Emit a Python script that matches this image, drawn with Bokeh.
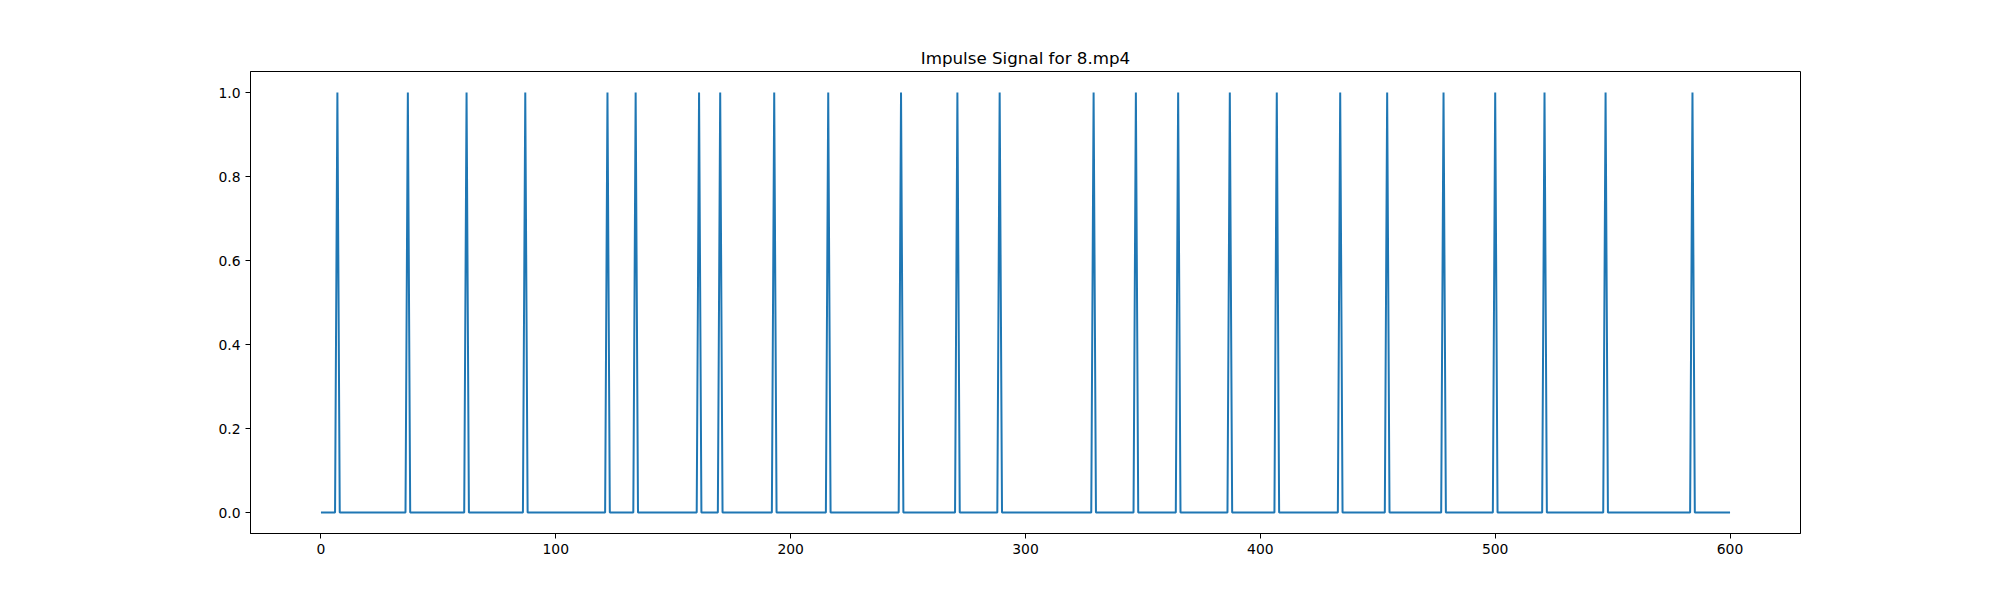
from bokeh.plotting import figure
from bokeh.models import Range1d, FixedTicker, PrintfTickFormatter, ColumnDataSource
from bokeh.embed import file_html
from bokeh.resources import INLINE

# Data: impulse positions (frame indices) over 0..600
n_samples = 601
spike_indices = [7, 37, 62, 87, 122, 134, 161, 170, 193, 216, 247, 271, 289,
                 329, 347, 365, 387, 407, 434, 454, 478, 500, 521, 547, 584]
x_ticks = [0, 100, 200, 300, 400, 500, 600]
y_ticks = [0.0, 0.2, 0.4, 0.6, 0.8, 1.0]
title_text = "Impulse Signal for 8.mp4"

xs = list(range(n_samples))
spike_set = set(spike_indices)
ys = [1.0 if i in spike_set else 0.0 for i in xs]
src = ColumnDataSource(dict(x=xs, y=ys))

p = figure(width=1984, height=584, output_backend="svg", toolbar_location=None,
           x_range=Range1d(-30, 630), y_range=Range1d(-0.05, 1.05),
           min_border_left=250, min_border_right=184, min_border_top=71, min_border_bottom=51,
           title=title_text)

p.line("x", "y", source=src, line_color="#1f77b4", line_width=2)

p.title.align = "center"
p.title.text_font = "DejaVu Sans"
p.title.text_font_size = "16.7px"
p.title.text_font_style = "normal"
p.title.text_color = "black"
p.title.standoff = 8

p.grid.visible = False
p.outline_line_color = "black"
p.outline_line_alpha = 1.0
p.outline_line_width = 1
p.background_fill_color = "white"
p.border_fill_color = "white"

p.xaxis.ticker = FixedTicker(ticks=x_ticks)
p.yaxis.ticker = FixedTicker(ticks=y_ticks)
p.yaxis.formatter = PrintfTickFormatter(format="%.1f")
for ax in (p.xaxis, p.yaxis):
    ax.major_label_text_font = "DejaVu Sans"
    ax.major_label_text_font_size = "13.9px"
    ax.major_label_text_color = "black"
    ax.axis_line_color = "black"
    ax.major_tick_line_color = "black"
    ax.major_tick_in = 0
    ax.major_tick_out = 5
    ax.minor_tick_line_color = None
    ax.major_label_standoff = 5

open("out.html", "w").write(file_html(p, INLINE))
